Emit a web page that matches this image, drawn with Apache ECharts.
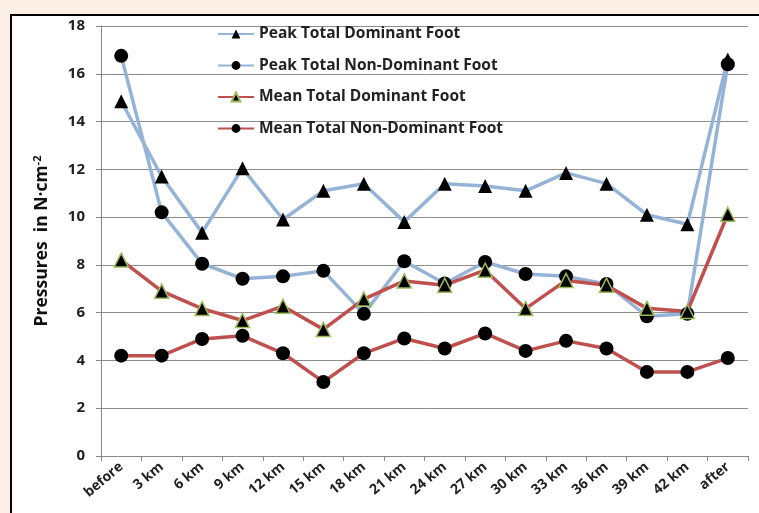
<!DOCTYPE html>
<html>
<head>
<meta charset="utf-8">
<script src="https://cdn.jsdelivr.net/npm/echarts@6/dist/echarts.min.js"></script>
<style>
html,body{margin:0;padding:0;background:#fdefe6;}
#c{width:759px;height:513px;}
</style>
</head>
<body>
<div id="c"></div>
<script>
var categories = ['before','3 km','6 km','9 km','12 km','15 km','18 km','21 km','24 km','27 km','30 km','33 km','36 km','39 km','42 km','after'];
var peakDominant =    [14.85, 11.7, 9.35, 12.05, 9.9, 11.1, 11.4, 9.8, 11.4, 11.3, 11.1, 11.85, 11.4, 10.1, 9.7, 16.6];
var peakNonDominant = [16.75, 10.2, 8.05, 7.42, 7.52, 7.75, 5.95, 8.15, 7.22, 8.12, 7.62, 7.52, 7.2, 5.85, 5.95, 16.4];
var meanDominant =    [8.2, 6.9, 6.17, 5.67, 6.27, 5.3, 6.57, 7.33, 7.15, 7.78, 6.17, 7.35, 7.15, 6.18, 6.05, 10.12];
var meanNonDominant = [4.2, 4.2, 4.9, 5.03, 4.3, 3.1, 4.3, 4.92, 4.5, 5.13, 4.4, 4.82, 4.5, 3.52, 3.52, 4.1];
var seriesNames = ['Peak Total Dominant Foot','Peak Total Non-Dominant Foot','Mean Total Dominant Foot','Mean Total Non-Dominant Foot'];

var blue = '#95b3d7', red = '#c0504d';
var font = '"Open Sans", Lato, sans-serif';
var chart = echarts.init(document.getElementById('c'), null, {renderer:'canvas'});
function mk(name, data, color, symbol, border) {
  return {
    name: name, type: 'line', data: data,
    symbol: symbol, symbolSize: 14,
    lineStyle: {color: color, width: 3.5},
    itemStyle: {color: '#000', borderColor: border, borderWidth: border ? 1.5 : 0},
    emphasis: {disabled: true},
    animation: false
  };
}
chart.setOption({
  backgroundColor: '#fdefe6',
  animation: false,
  graphic: [{
    type: 'rect', z: -100, silent: true,
    shape: {x: 11, y: 15, width: 770, height: 520},
    style: {fill: '#ffffff', stroke: '#000000', lineWidth: 2}
  }],
  grid: {left: 101, right: 11, top: 26, bottom: 57, containLabel: false},
  legend: {
    orient: 'vertical', left: 212, top: 21,
    itemWidth: 36, itemHeight: 11, itemGap: 15.5,
    textStyle: {fontFamily: font, fontWeight: 'bold', fontSize: 15.5, color: '#222', lineHeight: 16},
    data: seriesNames
  },
  xAxis: {
    type: 'category', data: categories, boundaryGap: true,
    axisLine: {lineStyle: {color: '#888', width: 1}},
    axisTick: {show: true, length: 5, lineStyle: {color: '#888'}},
    axisLabel: {interval: 0, rotate: 40, fontFamily: font, fontWeight: 'bold', fontSize: 14, color: '#222', margin: 9}
  },
  yAxis: {
    type: 'value', min: 0, max: 18, interval: 2,
    name: 'Pressures  in N·cm{sup|-2}',
    nameLocation: 'middle', nameGap: 48, nameRotate: 90,
    nameTextStyle: {fontFamily: font, fontWeight: 'bold', fontSize: 17.5, color: '#111',
      rich: {sup: {fontFamily: font, fontWeight: 'bold', fontSize: 11, color: '#111', verticalAlign: 'top', padding: [0,0,10,0]}}},
    axisLine: {show: true, lineStyle: {color: '#888', width: 1}},
    axisTick: {show: true, length: 5, lineStyle: {color: '#888'}},
    splitLine: {lineStyle: {color: '#8c8c8c', width: 1}},
    axisLabel: {fontFamily: font, fontWeight: 'bold', fontSize: 15, color: '#222', margin: 16}
  },
  series: [
    mk(seriesNames[0], peakDominant, blue, 'triangle', null),
    mk(seriesNames[1], peakNonDominant, blue, 'circle', null),
    mk(seriesNames[2], meanDominant, red, 'triangle', '#9bbb59'),
    mk(seriesNames[3], meanNonDominant, red, 'circle', null)
  ]
});
</script>
</body>
</html>
